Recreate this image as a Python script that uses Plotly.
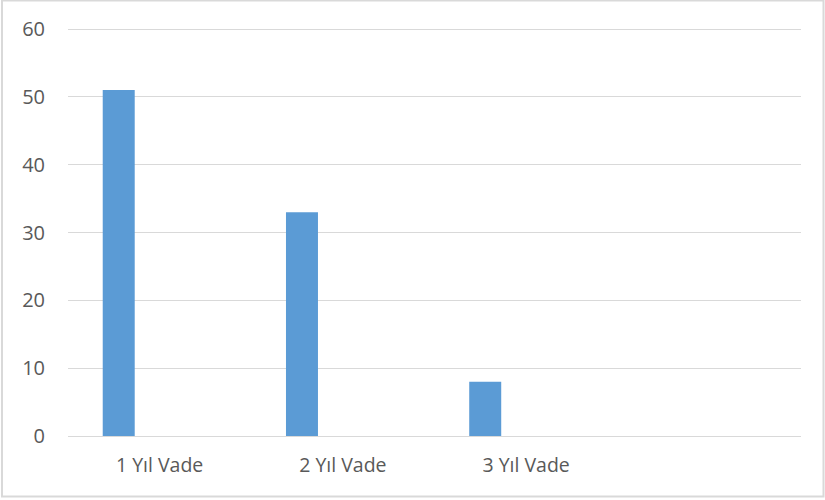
import plotly.graph_objects as go

categories = ["1 Yıl Vade", "2 Yıl Vade", "3 Yıl Vade", ""]
values = [51, 33, 8, None]
y_ticks = [0, 10, 20, 30, 40, 50, 60]

positions = list(range(len(categories)))

L, R, T, B = 68, 24, 27, 64
W, H = 825, 500
pw, ph = W - L - R, H - T - B

fig = go.Figure()
fig.add_trace(go.Bar(
    x=positions, y=values,
    width=0.1746, offset=-0.3105,
    marker=dict(color="#5b9bd5", line=dict(width=0)),
    showlegend=False,
))

fig.update_layout(
    width=W, height=H,
    margin=dict(l=L, r=R, t=T, b=B),
    paper_bgcolor="white", plot_bgcolor="white",
    font=dict(family="Open Sans", size=20, color="#595959"),
    xaxis=dict(
        range=[-0.5, len(categories) - 0.5],
        tickvals=positions, ticktext=categories,
        showgrid=False, zeroline=False,
        showline=True, linecolor="#d9d9d9", linewidth=1,
        ticks="", ticklabelstandoff=12,
        tickfont=dict(size=19.5, color="#595959"),
    ),
    yaxis=dict(
        range=[0, 60.3], tickvals=y_ticks,
        showgrid=True, gridcolor="#d9d9d9", gridwidth=1,
        zeroline=False, showline=False,
        ticks="", ticklabelstandoff=22,
        tickfont=dict(size=20, color="#595959"),
    ),
    shapes=[dict(
        type="rect", xref="paper", yref="paper",
        x0=(2 - L) / pw, x1=(823.5 - L) / pw,
        y0=(H - B - 496.5) / ph, y1=(H - B - 0.5) / ph,
        line=dict(color="#d9d9d9", width=2), fillcolor="rgba(0,0,0,0)",
        layer="below",
    )],
)

fig.write_html(
    "out.html",
    config={"displayModeBar": False},
    post_script="document.body.style.margin='0';document.body.style.overflow='hidden';",
)
